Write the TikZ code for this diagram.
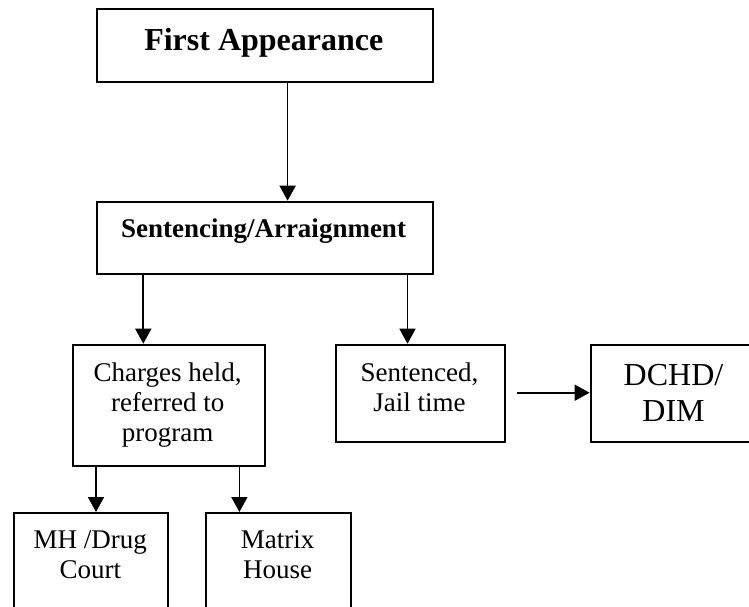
\documentclass[tikz,border=0pt]{standalone}
\usepackage{fontspec}
\setmainfont{Liberation Serif}
\usetikzlibrary{arrows.meta}
\begin{document}
\begin{tikzpicture}[x=1pt,y=-1pt,
  box/.style={draw=black,line width=2pt,rectangle,inner sep=0pt,anchor=north west},
  lbl/.style={anchor=base,inner sep=0pt,align=center,font=\fontsize{27}{30}\selectfont},
  arr/.style={line width=1.7pt,-{Triangle[length=15pt,width=16pt]}}]
\useasboundingbox (0,0) rectangle (749,606);
\clip (0,0) rectangle (749,606);
\fill[white] (0,0) rectangle (749,606);
% boxes
\node[box,minimum width=336.5pt,minimum height=72.4pt] (first) at (95.5,8.3) {};
\node[box,minimum width=336.5pt,minimum height=72pt] (sent) at (95.5,200.7) {};
\node[box,minimum width=192pt,minimum height=121pt] (charges) at (71.7,343.7) {};
\node[box,minimum width=168.2pt,minimum height=97.3pt] (sentenced) at (335.4,343.7) {};
\node[box,minimum width=260pt,minimum height=97.3pt] (dchd) at (589.6,343.7) {};
\node[box,minimum width=153.3pt,minimum height=120pt] (mh) at (13.4,512) {};
\node[box,minimum width=145.6pt,minimum height=120pt] (matrix) at (204.7,512) {};
% texts (base anchor = baseline of last line)
\node[lbl,font=\fontsize{32}{36}\selectfont\bfseries] (tfirst) at (263.8,50.7) {First Appearance};
\node[lbl,font=\fontsize{27}{30}\selectfont\bfseries] (tsent) at (263.5,237.3) {Sentencing/Arraignment};
\node[lbl] (tcharges) at (167.7,441) {Charges held,\\referred to\\program};
\node[lbl] (tsentenced) at (419.5,411) {Sentenced,\\Jail time};
\node[lbl,font=\fontsize{32}{36.7}\selectfont] (tdchd) at (673.5,421.7) {DCHD/\\DIM};
\node[lbl] (tmh) at (90.3,578.3) {MH /Drug\\Court};
\node[lbl] (tmatrix) at (277.6,578.3) {Matrix\\House};
% connector positions
\coordinate (x1) at (287.6,0);
\coordinate (x2) at (143.3,0);
\coordinate (x3) at (407.5,0);
\coordinate (x4) at (96,0);
\coordinate (x5) at (239.4,0);
\coordinate (s5) at (517.4,392.7);
% connectors
\draw[arr] (first.south -| x1) -- (sent.north -| x1);
\draw[arr] (sent.south -| x2) -- (charges.north -| x2);
\draw[arr] (sent.south -| x3) -- (sentenced.north -| x3);
\draw[arr] (s5) -- (dchd.west |- s5);
\draw[arr] (charges.south -| x4) -- (mh.north -| x4);
\draw[arr] (charges.south -| x5) -- (matrix.north -| x5);
\end{tikzpicture}
\end{document}
